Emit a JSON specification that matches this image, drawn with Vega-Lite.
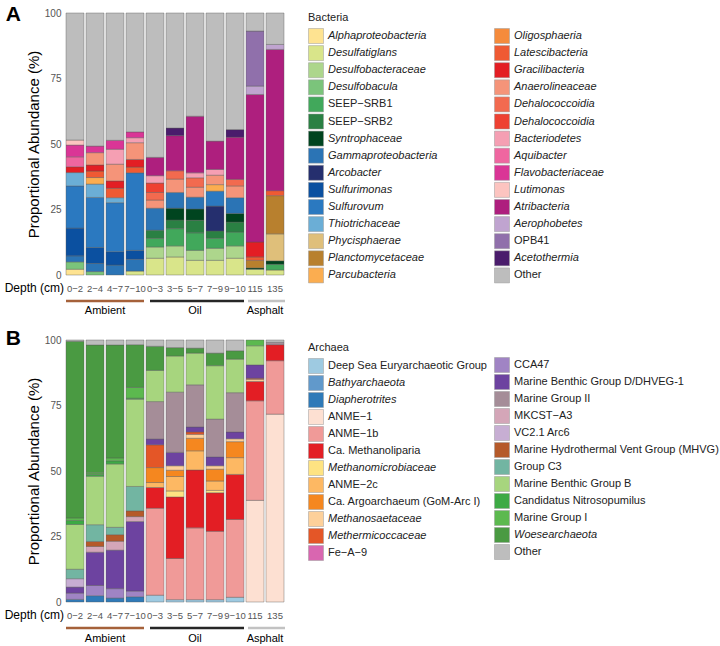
{
"$schema": "https://vega.github.io/schema/vega-lite/v6.json",
"padding": {"left": 4, "top": 4, "right": 0, "bottom": 0},
"config": {
  "font": "Liberation Sans",
  "view": {"stroke": null},
  "axis": {"grid": false},
  "legend": {"orient": "none", "direction": "vertical", "symbolType": "square", "symbolSize": 225, "symbolStrokeColor": "#9a9a9a", "symbolStrokeWidth": 0.5, "symbolOpacity": 1, "labelFontSize": 11, "labelColor": "#222", "labelOffset": 4, "labelLimit": 400, "rowPadding": -0.9, "titleFontSize": 11, "titleFontWeight": "normal", "titleColor": "#222", "titlePadding": 5, "padding": 0}
},
"bounds": "flush",
"spacing": 20,
"resolve": {"scale": {"color": "independent", "x": "independent", "y": "independent"}},
"datasets": {
  "bacTaxa": [
    {"taxon": "Alphaproteobacteria", "rank": 1}, {"taxon": "Desulfatiglans", "rank": 2}, {"taxon": "Desulfobacteraceae", "rank": 3}, {"taxon": "Desulfobacula", "rank": 4}, {"taxon": "SEEP−SRB1", "rank": 5}, {"taxon": "SEEP−SRB2", "rank": 6}, {"taxon": "Syntrophaceae", "rank": 7}, {"taxon": "Gammaproteobacteria", "rank": 8}, {"taxon": "Arcobacter", "rank": 9}, {"taxon": "Sulfurimonas", "rank": 10}, {"taxon": "Sulfurovum", "rank": 11}, {"taxon": "Thiotrichaceae", "rank": 12}, {"taxon": "Phycisphaerae", "rank": 13}, {"taxon": "Planctomycetaceae", "rank": 14}, {"taxon": "Parcubacteria", "rank": 15},
    {"taxon": "Oligosphaeria", "rank": 16}, {"taxon": "Latescibacteria", "rank": 17}, {"taxon": "Gracilibacteria", "rank": 18}, {"taxon": "Anaerolineaceae", "rank": 19}, {"taxon": "Dehalococcoidia", "rank": 20}, {"taxon": "Dehalococcoidia ", "rank": 21}, {"taxon": "Bacteriodetes", "rank": 22}, {"taxon": "Aquibacter", "rank": 23}, {"taxon": "Flavobacteriaceae", "rank": 24}, {"taxon": "Lutimonas", "rank": 25}, {"taxon": "Atribacteria", "rank": 26}, {"taxon": "Aerophobetes", "rank": 27}, {"taxon": "OPB41", "rank": 28}, {"taxon": "Acetothermia", "rank": 29}, {"taxon": "Other", "rank": 30}
  ],
  "arcTaxa": [
    {"taxon": "Deep Sea Euryarchaeotic Group", "rank": 1}, {"taxon": "Bathyarchaeota", "rank": 2}, {"taxon": "Diapherotrites", "rank": 3}, {"taxon": "ANME−1", "rank": 4}, {"taxon": "ANME−1b", "rank": 5}, {"taxon": "Ca. Methanoliparia", "rank": 6}, {"taxon": "Methanomicrobiaceae", "rank": 7}, {"taxon": "ANME−2c", "rank": 8}, {"taxon": "Ca. Argoarchaeum (GoM-Arc I)", "rank": 9}, {"taxon": "Methanosaetaceae", "rank": 10}, {"taxon": "Methermicoccaceae", "rank": 11}, {"taxon": "Fe−A−9", "rank": 12},
    {"taxon": "CCA47", "rank": 13}, {"taxon": "Marine Benthic Group D/DHVEG-1", "rank": 14}, {"taxon": "Marine Group II", "rank": 15}, {"taxon": "MKCST−A3", "rank": 16}, {"taxon": "VC2.1 Arc6", "rank": 17}, {"taxon": "Marine Hydrothermal Vent Group (MHVG)", "rank": 18}, {"taxon": "Group C3", "rank": 19}, {"taxon": "Marine Benthic Group B", "rank": 20}, {"taxon": "Candidatus Nitrosopumilus", "rank": 21}, {"taxon": "Marine Group I", "rank": 22}, {"taxon": "Woesearchaeota", "rank": 23}, {"taxon": "Other", "rank": 24}
  ],
  "groups": [
    {"group": "Ambient", "start": 0.05, "end": 3.95, "mid": 2.0},
    {"group": "Oil", "start": 4.25, "end": 8.95, "mid": 6.5},
    {"group": "Asphalt", "start": 9.15, "end": 11.0, "mid": 10.0}
  ],
  "bac": [
    {"depth": "0−2", "taxon": "Alphaproteobacteria", "pct": 2.2}, {"depth": "0−2", "taxon": "Desulfobacula", "pct": 2.8}, {"depth": "0−2", "taxon": "Gammaproteobacteria", "pct": 2.3}, {"depth": "0−2", "taxon": "Sulfurimonas", "pct": 10.6}, {"depth": "0−2", "taxon": "Sulfurovum", "pct": 16.1}, {"depth": "0−2", "taxon": "Thiotrichaceae", "pct": 5.1}, {"depth": "0−2", "taxon": "Gracilibacteria", "pct": 2.2}, {"depth": "0−2", "taxon": "Aquibacter", "pct": 3.8}, {"depth": "0−2", "taxon": "Flavobacteriaceae", "pct": 4.5}, {"depth": "0−2", "taxon": "Lutimonas", "pct": 1.9}, {"depth": "0−2", "taxon": "Other", "pct": 48.5},
    {"depth": "2−4", "taxon": "Desulfobacula", "pct": 1.3}, {"depth": "2−4", "taxon": "Gammaproteobacteria", "pct": 3.1}, {"depth": "2−4", "taxon": "Sulfurimonas", "pct": 6.1}, {"depth": "2−4", "taxon": "Sulfurovum", "pct": 19.1}, {"depth": "2−4", "taxon": "Thiotrichaceae", "pct": 5.1}, {"depth": "2−4", "taxon": "Parcubacteria", "pct": 2.5}, {"depth": "2−4", "taxon": "Latescibacteria", "pct": 2.5}, {"depth": "2−4", "taxon": "Gracilibacteria", "pct": 2.3}, {"depth": "2−4", "taxon": "Anaerolineaceae", "pct": 4.7}, {"depth": "2−4", "taxon": "Flavobacteriaceae", "pct": 2.5}, {"depth": "2−4", "taxon": "Other", "pct": 50.8},
    {"depth": "4−7", "taxon": "Gammaproteobacteria", "pct": 3.8}, {"depth": "4−7", "taxon": "Sulfurimonas", "pct": 5.1}, {"depth": "4−7", "taxon": "Sulfurovum", "pct": 18.7}, {"depth": "4−7", "taxon": "Thiotrichaceae", "pct": 1.9}, {"depth": "4−7", "taxon": "Latescibacteria", "pct": 3.6}, {"depth": "4−7", "taxon": "Gracilibacteria", "pct": 2.8}, {"depth": "4−7", "taxon": "Anaerolineaceae", "pct": 6.4}, {"depth": "4−7", "taxon": "Bacteriodetes", "pct": 5.7}, {"depth": "4−7", "taxon": "Flavobacteriaceae", "pct": 3.4}, {"depth": "4−7", "taxon": "Other", "pct": 48.6},
    {"depth": "7−10", "taxon": "Desulfatiglans", "pct": 1.5}, {"depth": "7−10", "taxon": "Gammaproteobacteria", "pct": 4.5}, {"depth": "7−10", "taxon": "Sulfurimonas", "pct": 3.4}, {"depth": "7−10", "taxon": "Sulfurovum", "pct": 29.6}, {"depth": "7−10", "taxon": "Latescibacteria", "pct": 2.2}, {"depth": "7−10", "taxon": "Gracilibacteria", "pct": 2.9}, {"depth": "7−10", "taxon": "Anaerolineaceae", "pct": 6.4}, {"depth": "7−10", "taxon": "Bacteriodetes", "pct": 1.9}, {"depth": "7−10", "taxon": "Flavobacteriaceae", "pct": 2.2}, {"depth": "7−10", "taxon": "Other", "pct": 45.4},
    {"depth": "0−3", "taxon": "Desulfatiglans", "pct": 6.4}, {"depth": "0−3", "taxon": "Desulfobacteraceae", "pct": 4.3}, {"depth": "0−3", "taxon": "SEEP−SRB1", "pct": 3.3}, {"depth": "0−3", "taxon": "SEEP−SRB2", "pct": 3.1}, {"depth": "0−3", "taxon": "Gammaproteobacteria", "pct": 8.4}, {"depth": "0−3", "taxon": "Anaerolineaceae", "pct": 3.1}, {"depth": "0−3", "taxon": "Dehalococcoidia", "pct": 2.9}, {"depth": "0−3", "taxon": "Dehalococcoidia ", "pct": 3.6}, {"depth": "0−3", "taxon": "Bacteriodetes", "pct": 2.8}, {"depth": "0−3", "taxon": "Atribacteria", "pct": 7.0}, {"depth": "0−3", "taxon": "Other", "pct": 55.1},
    {"depth": "3−5", "taxon": "Desulfatiglans", "pct": 6.9}, {"depth": "3−5", "taxon": "Desulfobacteraceae", "pct": 4.2}, {"depth": "3−5", "taxon": "SEEP−SRB1", "pct": 6.6}, {"depth": "3−5", "taxon": "SEEP−SRB2", "pct": 3.3}, {"depth": "3−5", "taxon": "Syntrophaceae", "pct": 4.5}, {"depth": "3−5", "taxon": "Gammaproteobacteria", "pct": 6.0}, {"depth": "3−5", "taxon": "Anaerolineaceae", "pct": 5.1}, {"depth": "3−5", "taxon": "Dehalococcoidia", "pct": 3.2}, {"depth": "3−5", "taxon": "Atribacteria", "pct": 13.4}, {"depth": "3−5", "taxon": "Acetothermia", "pct": 2.9}, {"depth": "3−5", "taxon": "Other", "pct": 43.9},
    {"depth": "5−7", "taxon": "Desulfatiglans", "pct": 5.6}, {"depth": "5−7", "taxon": "Desulfobacteraceae", "pct": 3.8}, {"depth": "5−7", "taxon": "SEEP−SRB1", "pct": 6.7}, {"depth": "5−7", "taxon": "SEEP−SRB2", "pct": 4.8}, {"depth": "5−7", "taxon": "Syntrophaceae", "pct": 4.3}, {"depth": "5−7", "taxon": "Gammaproteobacteria", "pct": 4.5}, {"depth": "5−7", "taxon": "Anaerolineaceae", "pct": 3.8}, {"depth": "5−7", "taxon": "Dehalococcoidia", "pct": 3.6}, {"depth": "5−7", "taxon": "Bacteriodetes", "pct": 1.9}, {"depth": "5−7", "taxon": "Atribacteria", "pct": 21.6}, {"depth": "5−7", "taxon": "Other", "pct": 39.4},
    {"depth": "7−9", "taxon": "Desulfatiglans", "pct": 5.6}, {"depth": "7−9", "taxon": "Desulfobacteraceae", "pct": 4.6}, {"depth": "7−9", "taxon": "SEEP−SRB1", "pct": 3.8}, {"depth": "7−9", "taxon": "SEEP−SRB2", "pct": 2.8}, {"depth": "7−9", "taxon": "Arcobacter", "pct": 9.5}, {"depth": "7−9", "taxon": "Sulfurovum", "pct": 5.7}, {"depth": "7−9", "taxon": "Parcubacteria", "pct": 2.5}, {"depth": "7−9", "taxon": "Anaerolineaceae", "pct": 3.6}, {"depth": "7−9", "taxon": "Bacteriodetes", "pct": 2.2}, {"depth": "7−9", "taxon": "Atribacteria", "pct": 10.8}, {"depth": "7−9", "taxon": "Other", "pct": 48.9},
    {"depth": "9−10", "taxon": "Desulfatiglans", "pct": 6.4}, {"depth": "9−10", "taxon": "Desulfobacteraceae", "pct": 4.7}, {"depth": "9−10", "taxon": "SEEP−SRB1", "pct": 5.3}, {"depth": "9−10", "taxon": "SEEP−SRB2", "pct": 3.8}, {"depth": "9−10", "taxon": "Syntrophaceae", "pct": 3.3}, {"depth": "9−10", "taxon": "Gammaproteobacteria", "pct": 6.0}, {"depth": "9−10", "taxon": "Anaerolineaceae", "pct": 4.5}, {"depth": "9−10", "taxon": "Dehalococcoidia", "pct": 2.5}, {"depth": "9−10", "taxon": "Atribacteria", "pct": 16.1}, {"depth": "9−10", "taxon": "Acetothermia", "pct": 2.9}, {"depth": "9−10", "taxon": "Other", "pct": 44.5},
    {"depth": "115", "taxon": "Desulfatiglans", "pct": 2.2}, {"depth": "115", "taxon": "Syntrophaceae", "pct": 0.5}, {"depth": "115", "taxon": "Planctomycetaceae", "pct": 2.9}, {"depth": "115", "taxon": "Latescibacteria", "pct": 1.3}, {"depth": "115", "taxon": "Gracilibacteria", "pct": 5.7}, {"depth": "115", "taxon": "Atribacteria", "pct": 56.3}, {"depth": "115", "taxon": "Aerophobetes", "pct": 3.2}, {"depth": "115", "taxon": "OPB41", "pct": 21.0}, {"depth": "115", "taxon": "Other", "pct": 6.9},
    {"depth": "135", "taxon": "Desulfatiglans", "pct": 1.9}, {"depth": "135", "taxon": "SEEP−SRB1", "pct": 2.2}, {"depth": "135", "taxon": "Syntrophaceae", "pct": 1.3}, {"depth": "135", "taxon": "Phycisphaerae", "pct": 10.3}, {"depth": "135", "taxon": "Planctomycetaceae", "pct": 14.6}, {"depth": "135", "taxon": "Latescibacteria", "pct": 1.9}, {"depth": "135", "taxon": "Atribacteria", "pct": 53.9}, {"depth": "135", "taxon": "Aerophobetes", "pct": 1.9}, {"depth": "135", "taxon": "Other", "pct": 12.0}
  ],
  "arc": [
    {"depth": "0−2", "taxon": "Diapherotrites", "pct": 1.0}, {"depth": "0−2", "taxon": "CCA47", "pct": 2.4}, {"depth": "0−2", "taxon": "Marine Benthic Group D/DHVEG-1", "pct": 2.3}, {"depth": "0−2", "taxon": "VC2.1 Arc6", "pct": 3.2}, {"depth": "0−2", "taxon": "Group C3", "pct": 3.6}, {"depth": "0−2", "taxon": "Marine Benthic Group B", "pct": 17.1}, {"depth": "0−2", "taxon": "Candidatus Nitrosopumilus", "pct": 1.5}, {"depth": "0−2", "taxon": "Marine Group I", "pct": 1.0}, {"depth": "0−2", "taxon": "Woesearchaeota", "pct": 67.4}, {"depth": "0−2", "taxon": "Other", "pct": 0.5},
    {"depth": "2−4", "taxon": "Diapherotrites", "pct": 2.4}, {"depth": "2−4", "taxon": "CCA47", "pct": 3.9}, {"depth": "2−4", "taxon": "Marine Benthic Group D/DHVEG-1", "pct": 12.7}, {"depth": "2−4", "taxon": "MKCST−A3", "pct": 2.2}, {"depth": "2−4", "taxon": "Marine Hydrothermal Vent Group (MHVG)", "pct": 1.9}, {"depth": "2−4", "taxon": "Group C3", "pct": 6.4}, {"depth": "2−4", "taxon": "Marine Benthic Group B", "pct": 18.5}, {"depth": "2−4", "taxon": "Candidatus Nitrosopumilus", "pct": 0.7}, {"depth": "2−4", "taxon": "Marine Group I", "pct": 0.6}, {"depth": "2−4", "taxon": "Woesearchaeota", "pct": 48.8}, {"depth": "2−4", "taxon": "Other", "pct": 1.9},
    {"depth": "4−7", "taxon": "Diapherotrites", "pct": 1.5}, {"depth": "4−7", "taxon": "CCA47", "pct": 3.6}, {"depth": "4−7", "taxon": "Marine Benthic Group D/DHVEG-1", "pct": 14.7}, {"depth": "4−7", "taxon": "MKCST−A3", "pct": 3.4}, {"depth": "4−7", "taxon": "Marine Hydrothermal Vent Group (MHVG)", "pct": 2.5}, {"depth": "4−7", "taxon": "Group C3", "pct": 2.8}, {"depth": "4−7", "taxon": "Marine Benthic Group B", "pct": 24.2}, {"depth": "4−7", "taxon": "Candidatus Nitrosopumilus", "pct": 1.2}, {"depth": "4−7", "taxon": "Marine Group I", "pct": 1.1}, {"depth": "4−7", "taxon": "Woesearchaeota", "pct": 43.1}, {"depth": "4−7", "taxon": "Other", "pct": 1.9},
    {"depth": "7−10", "taxon": "Diapherotrites", "pct": 2.0}, {"depth": "7−10", "taxon": "CCA47", "pct": 2.2}, {"depth": "7−10", "taxon": "Marine Benthic Group D/DHVEG-1", "pct": 26.5}, {"depth": "7−10", "taxon": "MKCST−A3", "pct": 1.9}, {"depth": "7−10", "taxon": "Marine Hydrothermal Vent Group (MHVG)", "pct": 2.2}, {"depth": "7−10", "taxon": "Group C3", "pct": 9.3}, {"depth": "7−10", "taxon": "Marine Benthic Group B", "pct": 33.3}, {"depth": "7−10", "taxon": "Candidatus Nitrosopumilus", "pct": 0.4}, {"depth": "7−10", "taxon": "Marine Group I", "pct": 4.1}, {"depth": "7−10", "taxon": "Woesearchaeota", "pct": 16.3}, {"depth": "7−10", "taxon": "Other", "pct": 1.8},
    {"depth": "0−3", "taxon": "Deep Sea Euryarchaeotic Group", "pct": 2.6}, {"depth": "0−3", "taxon": "ANME−1b", "pct": 33.2}, {"depth": "0−3", "taxon": "Ca. Methanoliparia", "pct": 7.9}, {"depth": "0−3", "taxon": "ANME−2c", "pct": 1.9}, {"depth": "0−3", "taxon": "Ca. Argoarchaeum (GoM-Arc I)", "pct": 5.7}, {"depth": "0−3", "taxon": "Methermicoccaceae", "pct": 8.7}, {"depth": "0−3", "taxon": "Marine Benthic Group D/DHVEG-1", "pct": 2.2}, {"depth": "0−3", "taxon": "Marine Group II", "pct": 14.3}, {"depth": "0−3", "taxon": "Marine Benthic Group B", "pct": 11.9}, {"depth": "0−3", "taxon": "Woesearchaeota", "pct": 9.2}, {"depth": "0−3", "taxon": "Other", "pct": 2.4},
    {"depth": "3−5", "taxon": "Deep Sea Euryarchaeotic Group", "pct": 0.9}, {"depth": "3−5", "taxon": "ANME−1b", "pct": 15.7}, {"depth": "3−5", "taxon": "Ca. Methanoliparia", "pct": 23.5}, {"depth": "3−5", "taxon": "Methanomicrobiaceae", "pct": 2.3}, {"depth": "3−5", "taxon": "ANME−2c", "pct": 5.5}, {"depth": "3−5", "taxon": "Ca. Argoarchaeum (GoM-Arc I)", "pct": 2.4}, {"depth": "3−5", "taxon": "Methanosaetaceae", "pct": 1.7}, {"depth": "3−5", "taxon": "Marine Benthic Group D/DHVEG-1", "pct": 5.1}, {"depth": "3−5", "taxon": "Marine Group II", "pct": 23.0}, {"depth": "3−5", "taxon": "Marine Benthic Group B", "pct": 13.8}, {"depth": "3−5", "taxon": "Woesearchaeota", "pct": 3.2}, {"depth": "3−5", "taxon": "Other", "pct": 2.9},
    {"depth": "5−7", "taxon": "Deep Sea Euryarchaeotic Group", "pct": 0.9}, {"depth": "5−7", "taxon": "ANME−1b", "pct": 27.4}, {"depth": "5−7", "taxon": "Ca. Methanoliparia", "pct": 22.1}, {"depth": "5−7", "taxon": "ANME−2c", "pct": 7.3}, {"depth": "5−7", "taxon": "Ca. Argoarchaeum (GoM-Arc I)", "pct": 4.8}, {"depth": "5−7", "taxon": "Methanosaetaceae", "pct": 1.5}, {"depth": "5−7", "taxon": "Methermicoccaceae", "pct": 0.9}, {"depth": "5−7", "taxon": "Marine Benthic Group D/DHVEG-1", "pct": 1.9}, {"depth": "5−7", "taxon": "Marine Group II", "pct": 16.1}, {"depth": "5−7", "taxon": "Marine Benthic Group B", "pct": 12.1}, {"depth": "5−7", "taxon": "Woesearchaeota", "pct": 1.9}, {"depth": "5−7", "taxon": "Other", "pct": 3.1},
    {"depth": "7−9", "taxon": "Deep Sea Euryarchaeotic Group", "pct": 0.9}, {"depth": "7−9", "taxon": "ANME−1b", "pct": 26.1}, {"depth": "7−9", "taxon": "Ca. Methanoliparia", "pct": 14.7}, {"depth": "7−9", "taxon": "Methanomicrobiaceae", "pct": 0.9}, {"depth": "7−9", "taxon": "ANME−2c", "pct": 3.6}, {"depth": "7−9", "taxon": "Ca. Argoarchaeum (GoM-Arc I)", "pct": 4.5}, {"depth": "7−9", "taxon": "Methanosaetaceae", "pct": 1.3}, {"depth": "7−9", "taxon": "Marine Benthic Group D/DHVEG-1", "pct": 3.4}, {"depth": "7−9", "taxon": "Marine Group II", "pct": 14.4}, {"depth": "7−9", "taxon": "Marine Benthic Group B", "pct": 20.4}, {"depth": "7−9", "taxon": "Woesearchaeota", "pct": 4.8}, {"depth": "7−9", "taxon": "Other", "pct": 5.0},
    {"depth": "9−10", "taxon": "Deep Sea Euryarchaeotic Group", "pct": 1.8}, {"depth": "9−10", "taxon": "ANME−1b", "pct": 29.7}, {"depth": "9−10", "taxon": "Ca. Methanoliparia", "pct": 17.2}, {"depth": "9−10", "taxon": "ANME−2c", "pct": 6.4}, {"depth": "9−10", "taxon": "Ca. Argoarchaeum (GoM-Arc I)", "pct": 6.1}, {"depth": "9−10", "taxon": "Methanosaetaceae", "pct": 1.1}, {"depth": "9−10", "taxon": "Marine Benthic Group D/DHVEG-1", "pct": 2.6}, {"depth": "9−10", "taxon": "Marine Group II", "pct": 15.0}, {"depth": "9−10", "taxon": "Marine Benthic Group B", "pct": 12.8}, {"depth": "9−10", "taxon": "Woesearchaeota", "pct": 3.2}, {"depth": "9−10", "taxon": "Other", "pct": 4.1},
    {"depth": "115", "taxon": "ANME−1", "pct": 38.8}, {"depth": "115", "taxon": "ANME−1b", "pct": 38.0}, {"depth": "115", "taxon": "Ca. Methanoliparia", "pct": 7.4}, {"depth": "115", "taxon": "Methanosaetaceae", "pct": 0.8}, {"depth": "115", "taxon": "Methermicoccaceae", "pct": 0.4}, {"depth": "115", "taxon": "Marine Benthic Group D/DHVEG-1", "pct": 5.1}, {"depth": "115", "taxon": "Marine Benthic Group B", "pct": 7.3}, {"depth": "115", "taxon": "Marine Group I", "pct": 2.2},
    {"depth": "135", "taxon": "ANME−1", "pct": 71.7}, {"depth": "135", "taxon": "ANME−1b", "pct": 20.4}, {"depth": "135", "taxon": "Ca. Methanoliparia", "pct": 6.1}, {"depth": "135", "taxon": "Marine Group II", "pct": 0.9}, {"depth": "135", "taxon": "Other", "pct": 0.9}
  ]
},
"vconcat": [
  {
    "width": 220,
    "height": 262,
    "title": {"text": "A", "orient": "left", "anchor": "end", "frame": "group", "angle": 0, "align": "right", "baseline": "top", "fontSize": 21, "fontWeight": "bold", "color": "black", "offset": 6, "dx": 38, "dy": -9},
    "data": {"name": "bac"},
    "transform": [
      {"lookup": "taxon", "from": {"data": {"name": "bacTaxa"}, "key": "taxon", "fields": ["rank"]}},
      {"stack": "pct", "groupby": ["depth"], "sort": [{"field": "rank", "order": "ascending"}], "as": ["y0", "y1"]}
    ],
    "encoding": {
      "x": {"field": "depth", "type": "nominal", "sort": null,
            "scale": {"domain": ["0−2", "2−4", "4−7", "7−10", "0−3", "3−5", "5−7", "7−9", "9−10", "115", "135"], "paddingInner": 0.1, "paddingOuter": 0.05},
            "axis": {"title": "Depth (cm)", "labelAngle": 0, "labelFontSize": 9.5, "labelColor": "#555", "ticks": false, "tickSize": 0, "domain": false, "labelPadding": 8, "titleFontSize": 12, "titleFontWeight": "normal", "titleColor": "black", "titleX": -1.5, "titleY": 12.7, "titleAlign": "right", "titleBaseline": "middle"}},
      "y": {"field": "y0", "type": "quantitative", "stack": null, "scale": {"domain": [0, 100], "nice": false},
            "axis": {"title": "Proportional Abundance (%)", "values": [0, 25, 50, 75, 100], "ticks": false, "domain": false, "grid": false, "labelFontSize": 10, "labelColor": "#555", "labelPadding": 4, "titleFontSize": 15, "titleFontWeight": "normal", "titleColor": "black", "titlePadding": 3}},
      "y2": {"field": "y1"}
    },
    "resolve": {"scale": {"color": "independent"}},
    "layer": [
      {
        "transform": [{"filter": "datum.rank <= 15"}],
        "mark": {"type": "bar", "stroke": "#555", "strokeWidth": 0.4},
        "encoding": {"color": {"field": "taxon", "type": "nominal",
          "scale": {"domain": ["Alphaproteobacteria", "Desulfatiglans", "Desulfobacteraceae", "Desulfobacula", "SEEP−SRB1", "SEEP−SRB2", "Syntrophaceae", "Gammaproteobacteria", "Arcobacter", "Sulfurimonas", "Sulfurovum", "Thiotrichaceae", "Phycisphaerae", "Planctomycetaceae", "Parcubacteria"],
                    "range": ["#fee391", "#d9e58a", "#add68c", "#7bc47b", "#41a85b", "#2a8043", "#00441f", "#2b74b5", "#252f6e", "#0b50a0", "#2b79c0", "#6baed6", "#dfbf7a", "#b8802e", "#fbad50"]},
          "legend": {"title": "Bacteria", "orient": "none", "legendX": 243, "legendY": -1,
                     "encode": {"labels": {"update": {"fontStyle": {"signal": "indexof(['SEEP−SRB1','SEEP−SRB2','OPB41','Other'], datum.value) >= 0 ? 'normal' : 'italic'"}}}}}}}
      },
      {
        "transform": [{"filter": "datum.rank > 15"}],
        "mark": {"type": "bar", "stroke": "#555", "strokeWidth": 0.4},
        "encoding": {"color": {"field": "taxon", "type": "nominal",
          "scale": {"domain": ["Oligosphaeria", "Latescibacteria", "Gracilibacteria", "Anaerolineaceae", "Dehalococcoidia", "Dehalococcoidia ", "Bacteriodetes", "Aquibacter", "Flavobacteriaceae", "Lutimonas", "Atribacteria", "Aerophobetes", "OPB41", "Acetothermia", "Other"],
                    "range": ["#f58b3c", "#ef5a33", "#e31e24", "#f59479", "#f26a4f", "#ee4132", "#f59fb3", "#ef66a0", "#da3596", "#fcc4c0", "#ae1f7e", "#c0a4d0", "#9070ab", "#4a1c6c", "#bdbdbd"]},
          "legend": {"title": null, "orient": "none", "legendX": 429, "legendY": 15,
                     "encode": {"labels": {"update": {"fontStyle": {"signal": "indexof(['SEEP−SRB1','SEEP−SRB2','OPB41','Other'], datum.value) >= 0 ? 'normal' : 'italic'"}}}}}}}
      }
    ]
  },
  {
    "width": 220,
    "height": 25,
    "data": {"name": "groups"},
    "layer": [
      {"mark": {"type": "rule", "strokeWidth": 2.5},
       "encoding": {
         "x": {"field": "start", "type": "quantitative", "scale": {"domain": [0, 11], "nice": false, "zero": false}, "axis": null},
         "x2": {"field": "end"},
         "y": {"datum": 0.76, "type": "quantitative", "scale": {"domain": [0, 1], "nice": false}, "axis": null},
         "color": {"field": "group", "type": "nominal", "scale": {"domain": ["Ambient", "Oil", "Asphalt"], "range": ["#a5613a", "#262626", "#c2c2c2"]}, "legend": null}}},
      {"mark": {"type": "text", "fontSize": 11, "baseline": "middle", "color": "black"},
       "encoding": {
         "x": {"field": "mid", "type": "quantitative", "scale": {"domain": [0, 11], "nice": false, "zero": false}, "axis": null},
         "y": {"datum": 0.36, "type": "quantitative", "scale": {"domain": [0, 1], "nice": false}, "axis": null},
         "text": {"field": "group"}}}
    ]
  },
  {
    "width": 220,
    "height": 262,
    "title": {"text": "B", "orient": "left", "anchor": "end", "frame": "group", "angle": 0, "align": "right", "baseline": "top", "fontSize": 21, "fontWeight": "bold", "color": "black", "offset": 6, "dx": 38, "dy": -12},
    "data": {"name": "arc"},
    "transform": [
      {"lookup": "taxon", "from": {"data": {"name": "arcTaxa"}, "key": "taxon", "fields": ["rank"]}},
      {"stack": "pct", "groupby": ["depth"], "sort": [{"field": "rank", "order": "ascending"}], "as": ["y0", "y1"]}
    ],
    "encoding": {
      "x": {"field": "depth", "type": "nominal", "sort": null,
            "scale": {"domain": ["0−2", "2−4", "4−7", "7−10", "0−3", "3−5", "5−7", "7−9", "9−10", "115", "135"], "paddingInner": 0.1, "paddingOuter": 0.05},
            "axis": {"title": "Depth (cm)", "labelAngle": 0, "labelFontSize": 9.5, "labelColor": "#555", "ticks": false, "tickSize": 0, "domain": false, "labelPadding": 8, "titleFontSize": 12, "titleFontWeight": "normal", "titleColor": "black", "titleX": -1.5, "titleY": 12.7, "titleAlign": "right", "titleBaseline": "middle"}},
      "y": {"field": "y0", "type": "quantitative", "stack": null, "scale": {"domain": [0, 100], "nice": false},
            "axis": {"title": "Proportional Abundance (%)", "values": [0, 25, 50, 75, 100], "ticks": false, "domain": false, "grid": false, "labelFontSize": 10, "labelColor": "#555", "labelPadding": 4, "titleFontSize": 15, "titleFontWeight": "normal", "titleColor": "black", "titlePadding": 3}},
      "y2": {"field": "y1"}
    },
    "resolve": {"scale": {"color": "independent"}},
    "layer": [
      {
        "transform": [{"filter": "datum.rank <= 12"}],
        "mark": {"type": "bar", "stroke": "#555", "strokeWidth": 0.4},
        "encoding": {"color": {"field": "taxon", "type": "nominal",
          "scale": {"domain": ["Deep Sea Euryarchaeotic Group", "Bathyarchaeota", "Diapherotrites", "ANME−1", "ANME−1b", "Ca. Methanoliparia", "Methanomicrobiaceae", "ANME−2c", "Ca. Argoarchaeum (GoM-Arc I)", "Methanosaetaceae", "Methermicoccaceae", "Fe−A−9"],
                    "range": ["#9ecae1", "#6199cb", "#2f7ab8", "#fde0d2", "#f09a98", "#e31e24", "#fee382", "#fdb863", "#f5871f", "#fdd09a", "#e45627", "#d966b0"]},
          "legend": {"title": "Archaea", "orient": "none", "legendX": 243, "legendY": 2, "rowPadding": -1.1,
                     "encode": {"labels": {"update": {"fontStyle": {"signal": "indexof(['Bathyarchaeota','Diapherotrites','Methanomicrobiaceae','Methanosaetaceae','Methermicoccaceae','Woesearchaeota'], datum.value) >= 0 ? 'italic' : 'normal'"}}}}}}}
      },
      {
        "transform": [{"filter": "datum.rank > 12"}],
        "mark": {"type": "bar", "stroke": "#555", "strokeWidth": 0.4},
        "encoding": {"color": {"field": "taxon", "type": "nominal",
          "scale": {"domain": ["CCA47", "Marine Benthic Group D/DHVEG-1", "Marine Group II", "MKCST−A3", "VC2.1 Arc6", "Marine Hydrothermal Vent Group (MHVG)", "Group C3", "Marine Benthic Group B", "Candidatus Nitrosopumilus", "Marine Group I", "Woesearchaeota", "Other"],
                    "range": ["#a084c4", "#6d43a0", "#a58d98", "#d4a6b8", "#c7aed3", "#b55a2a", "#72b5a2", "#a7d57e", "#3daa45", "#5cb94f", "#4a9a42", "#bdbdbd"]},
          "legend": {"title": null, "orient": "none", "legendX": 429, "legendY": 17, "rowPadding": -1.1,
                     "encode": {"labels": {"update": {"fontStyle": {"signal": "indexof(['Bathyarchaeota','Diapherotrites','Methanomicrobiaceae','Methanosaetaceae','Methermicoccaceae','Woesearchaeota'], datum.value) >= 0 ? 'italic' : 'normal'"}}}}}}}
      }
    ]
  },
  {
    "width": 220,
    "height": 25,
    "data": {"name": "groups"},
    "layer": [
      {"mark": {"type": "rule", "strokeWidth": 2.5},
       "encoding": {
         "x": {"field": "start", "type": "quantitative", "scale": {"domain": [0, 11], "nice": false, "zero": false}, "axis": null},
         "x2": {"field": "end"},
         "y": {"datum": 0.76, "type": "quantitative", "scale": {"domain": [0, 1], "nice": false}, "axis": null},
         "color": {"field": "group", "type": "nominal", "scale": {"domain": ["Ambient", "Oil", "Asphalt"], "range": ["#a5613a", "#262626", "#c2c2c2"]}, "legend": null}}},
      {"mark": {"type": "text", "fontSize": 11, "baseline": "middle", "color": "black"},
       "encoding": {
         "x": {"field": "mid", "type": "quantitative", "scale": {"domain": [0, 11], "nice": false, "zero": false}, "axis": null},
         "y": {"datum": 0.32, "type": "quantitative", "scale": {"domain": [0, 1], "nice": false}, "axis": null},
         "text": {"field": "group"}}}
    ]
  }
]
}
